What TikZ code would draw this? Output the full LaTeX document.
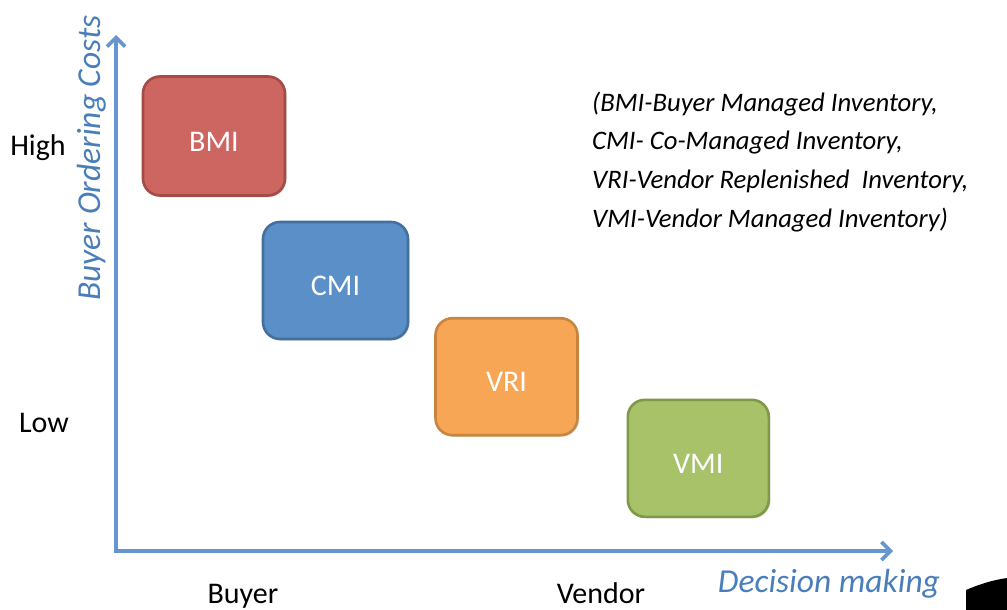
\documentclass[tikz,border=0pt]{standalone}
\usepackage{fontspec}
\setmainfont{Carlito}
\usetikzlibrary{arrows.meta,shadows}
\definecolor{axisblue}{HTML}{6796CF}
\definecolor{titleblue}{HTML}{4A7EBB}
\definecolor{bmifill}{HTML}{CD6560}
\definecolor{bmidraw}{HTML}{A54A45}
\definecolor{cmifill}{HTML}{5B8FC8}
\definecolor{cmidraw}{HTML}{44709F}
\definecolor{vrifill}{HTML}{F7A656}
\definecolor{vridraw}{HTML}{C9843F}
\definecolor{vmifill}{HTML}{A8C26A}
\definecolor{vmidraw}{HTML}{7E9A48}
\begin{document}
\begin{tikzpicture}[x=1pt,y=-1pt,
  box/.style={line width=2.6pt, rounded corners=17pt, text=white,
    font=\fontsize{30}{32}\selectfont, text height=30pt, text depth=0pt,
    drop shadow={opacity=0.25, shadow xshift=1.5pt, shadow yshift=-1.5pt}},
  axis/.style={draw=axisblue, line width=3.6pt,
    {Straight Barb[length=9pt,width=18pt]}-{Straight Barb[length=9pt,width=18pt]}},
  lbl/.style={font=\fontsize{30}{32}\selectfont, text=black},
  legend/.style={font=\fontsize{26.7}{30}\selectfont\itshape, text=black, anchor=base west, inner sep=0pt},
  axtitle/.style={font=\fontsize{33.5}{35}\selectfont\itshape, text=titleblue}]
\useasboundingbox (0,0) rectangle (1007,610);
\fill[white] (0,0) rectangle (1007,610);
% axes
\coordinate (ytop) at (116,35);
\coordinate (xend) at (893,551);
\draw[axis] (ytop) |- (xend);
% boxes
\node[box, draw=bmidraw, fill=bmifill, minimum width=142pt, minimum height=119pt] (bmi) at (214,136) {BMI};
\node[box, draw=cmidraw, fill=cmifill, minimum width=145pt, minimum height=117pt] (cmi) at (335.5,280.5) {CMI};
\node[box, draw=vridraw, fill=vrifill, minimum width=142pt, minimum height=117pt] (vri) at (506.5,376.7) {VRI};
\node[box, draw=vmidraw, fill=vmifill, minimum width=141pt, minimum height=117pt] (vmi) at (698.3,458.3) {VMI};
% axis labels
\node[lbl] (high) at (38,148) {High};
\node[lbl] (low) at (44,423) {Low};
\node[lbl, anchor=base, inner sep=0pt] (buyer) at (243,603) {Buyer};
\node[lbl, anchor=base, inner sep=0pt] (vendor) at (601,603) {Vendor};
\node[axtitle] (dm) at (829,584) {Decision making};
\node[axtitle, rotate=90] (boc) at (92,158) {Buyer Ordering Costs};
% legend
\node[legend] (l1) at (592,111) {(BMI-Buyer Managed Inventory,};
\node[legend] (l2) at (592,149.5) {CMI- Co-Managed Inventory,};
\node[legend] (l3) at (592,188.5) {VRI-Vendor Replenished\ \ Inventory,};
\node[legend] (l4) at (592,227) {VMI-Vendor Managed Inventory)};
% black corner shape
\fill[black] (966,590) .. controls (980,584) and (993,580) .. (1007,578) -- (1007,610) -- (966,610) -- cycle;
\end{tikzpicture}
\end{document}
